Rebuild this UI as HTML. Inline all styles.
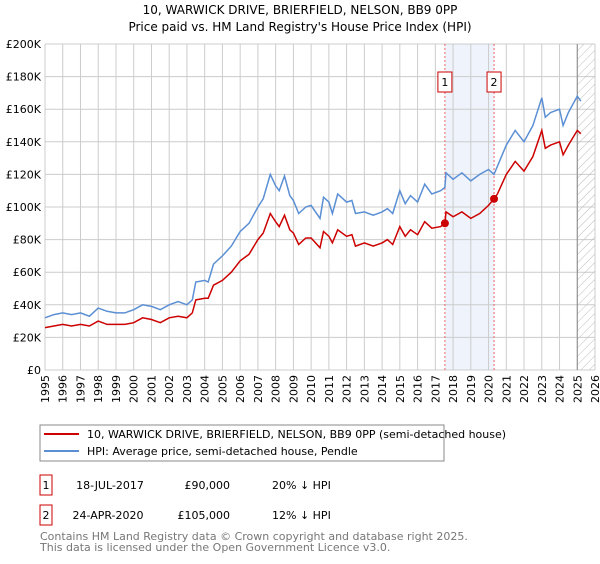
<!DOCTYPE html>
<html><head><meta charset="utf-8"><style>
body{margin:0;background:#fff;width:600px;height:560px;overflow:hidden;font-family:"DejaVu Sans","Liberation Sans",sans-serif}
svg text{font-family:"DejaVu Sans","Liberation Sans",sans-serif}
</style></head><body>
<svg id="chart" width="600" height="560" xmlns="http://www.w3.org/2000/svg">
<defs><pattern id="hatch" width="6" height="6" patternUnits="userSpaceOnUse" patternTransform="rotate(45)"><line x1="0" y1="0" x2="0" y2="6" stroke="#bbb" stroke-width="1"/></pattern></defs>
<text x="300" y="14" text-anchor="middle" font-size="12">10, WARWICK DRIVE, BRIERFIELD, NELSON, BB9 0PP</text>
<text x="300" y="31" text-anchor="middle" font-size="12">Price paid vs. HM Land Registry's House Price Index (HPI)</text>
<g id="grid"></g><g id="marks"></g><g id="axes"></g>
<rect x="40" y="425" width="404" height="36" fill="#fff" stroke="#888"/>
<line x1="44" y1="434" x2="79" y2="434" stroke="#cc0000" stroke-width="2"/>
<text x="87" y="438" font-size="11">10, WARWICK DRIVE, BRIERFIELD, NELSON, BB9 0PP (semi-detached house)</text>
<line x1="44" y1="451" x2="79" y2="451" stroke="#5b8fd4" stroke-width="2"/>
<text x="87" y="455" font-size="11">HPI: Average price, semi-detached house, Pendle</text>
<g>
<rect x="40" y="475" width="12" height="20" fill="#fff" stroke="#cc0000"/><text x="46" y="489" text-anchor="middle" font-size="11">1</text>
<text x="110" y="489" text-anchor="middle" font-size="11">18-JUL-2017</text>
<text x="230" y="489" text-anchor="end" font-size="11">£90,000</text>
<text x="272" y="489" font-size="11">20% ↓ HPI</text></g>
<g>
<rect x="40" y="505" width="12" height="20" fill="#fff" stroke="#cc0000"/><text x="46" y="519" text-anchor="middle" font-size="11">2</text>
<text x="108" y="519" text-anchor="middle" font-size="11">24-APR-2020</text>
<text x="230" y="519" text-anchor="end" font-size="11">£105,000</text>
<text x="272" y="519" font-size="11">12% ↓ HPI</text></g>
<text x="40" y="540" font-size="11" fill="#777">Contains HM Land Registry data © Crown copyright and database right 2025.</text>
<text x="40" y="551" font-size="11" fill="#777">This data is licensed under the Open Government Licence v3.0.</text>
</svg>
<script>
const years=[1995,1995.5,1996,1996.5,1997,1997.5,1998,1998.5,1999,1999.5,2000,2000.5,2001,2001.5,2002,2002.5,2003,2003.3,2003.5,2004,2004.2,2004.5,2005,2005.5,2006,2006.5,2007,2007.3,2007.7,2008,2008.2,2008.5,2008.8,2009,2009.3,2009.7,2010,2010.5,2010.7,2011,2011.2,2011.5,2012,2012.3,2012.5,2013,2013.5,2014,2014.3,2014.6,2015,2015.3,2015.6,2016,2016.4,2016.8,2017.3,2017.54,2017.6,2018,2018.5,2019,2019.5,2020,2020.31,2020.5,2021,2021.5,2022,2022.5,2023,2023.2,2023.5,2024,2024.2,2024.5,2025,2025.2];
const hpi=[32,34,35,34,35,33,38,36,35,35,37,40,39,37,40,42,40,43,54,55,54,65,70,76,85,90,100,105,120,113,110,119,107,104,96,100,101,93,106,103,96,108,103,104,96,97,95,97,99,96,110,102,107,103,114,108,110,112,121,117,121,116,120,123,120,125,138,147,140,150,167,155,158,160,150,158,168,165];
const price=[26,27,28,27,28,27,30,28,28,28,29,32,31,29,32,33,32,35,43,44,44,52,55,60,67,71,80,84,96,91,88,95,86,84,77,81,81,75,85,82,78,86,82,83,76,78,76,78,80,77,88,82,86,83,91,87,88,90,97,94,97,93,96,101,105,108,120,128,122,131,147,136,138,140,132,138,147,145];
const yTicks=[0,20,40,60,80,100,120,140,160,180,200];
const xTicks=[1995,1996,1997,1998,1999,2000,2001,2002,2003,2004,2005,2006,2007,2008,2009,2010,2011,2012,2013,2014,2015,2016,2017,2018,2019,2020,2021,2022,2023,2024,2025,2026];
const saleYears=[2017.54,2020.31];
const salePrices=[90,105];
const saleLabels=['1','2'];
const NS='http://www.w3.org/2000/svg';
const X0=45,X1=595,Y0=370,Y1=44;
const xs=y=>X0+(y-1995)/(2026-1995)*(X1-X0);
const ys=v=>Y0-v/200*(Y0-Y1);
function mk(tag,attrs,parent,txt){const e=document.createElementNS(NS,tag);for(const k in attrs)e.setAttribute(k,attrs[k]);if(txt!==undefined)e.textContent=txt;parent.appendChild(e);return e;}
const grid=document.getElementById('grid'),marks=document.getElementById('marks'),axes=document.getElementById('axes');
const sh=mk('rect',{x:xs(saleYears[0]),y:Y1,width:xs(saleYears[1])-xs(saleYears[0]),height:Y0-Y1,fill:'#eef3fc'},grid);


yTicks.forEach(v=>{
 const l=mk('line',{x1:X0,x2:X1,y1:ys(v),y2:ys(v),stroke:'#ccc'},grid);
 
 
 const t=mk('text',{x:X0-4,y:ys(v)+4,'text-anchor':'end','font-size':'11'},axes,v===0?'£0':'£'+v+'K');
 
 
});
xTicks.forEach(yr=>{
 const l=mk('line',{x1:xs(yr),x2:xs(yr),y1:Y1,y2:Y0,stroke:'#ccc'},grid);
 
 
 const t=mk('text',{x:0,y:0,'text-anchor':'end','font-size':'11',transform:`translate(${xs(yr)+4},${Y0+5}) rotate(-90)`},axes,String(yr));
 
 
});
const hx=xs(2025);
const ht=mk('rect',{x:hx,y:Y1,width:X1-hx,height:Y0-Y1,fill:'url(#hatch)'},grid);


const hl=mk('line',{x1:hx,x2:hx,y1:Y1,y2:Y0,stroke:'#888'},grid);


saleYears.forEach((sy,i)=>{
 const l=mk('line',{x1:xs(sy),x2:xs(sy),y1:Y1,y2:Y0,stroke:'#e66','stroke-dasharray':'2,2'},marks);
 
 
 const g=mk('g',{},axes);
 
 
 mk('rect',{x:xs(sy)-7,y:72,width:14,height:20,fill:'#fff',stroke:'#cc0000'},g);
 mk('text',{x:xs(sy),y:86,'text-anchor':'middle','font-size':'11'},g,saleLabels[i]);
});
const pts=a=>a.map((v,i)=>xs(years[i]).toFixed(1)+','+ys(v).toFixed(1)).join(' ');
const hp=mk('polyline',{points:pts(hpi),fill:'none',stroke:'#5b8fd4','stroke-width':1.5},marks);


const pp=mk('polyline',{points:pts(price),fill:'none',stroke:'#cc0000','stroke-width':1.5},marks);


saleYears.forEach((sy,i)=>{
 const c=mk('circle',{cx:xs(sy),cy:ys(salePrices[i]),r:4,fill:'#cc0000'},marks);
 
 
});
</script>
</body></html>
